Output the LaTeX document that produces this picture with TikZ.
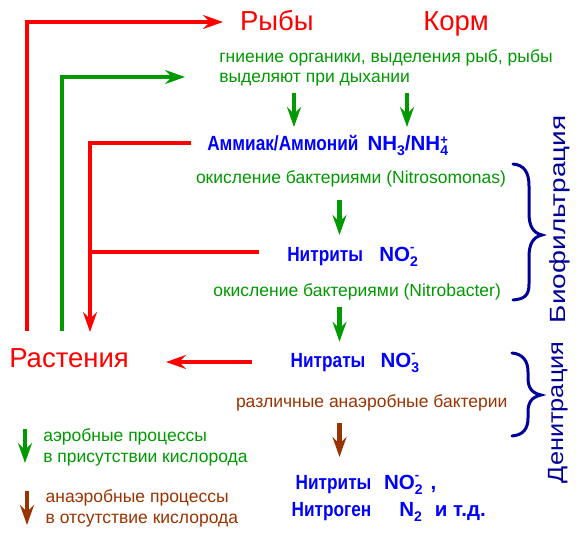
\documentclass[tikz,border=0pt]{standalone}
\usepackage{fontspec}
\setmainfont{Liberation Sans}
\newfontfamily\bluecyr[FakeStretch=0.84]{Liberation Sans}
\newfontfamily\bluelat{Liberation Sans}
\usetikzlibrary{arrows.meta}
\definecolor{cred}{HTML}{FF0000}
\definecolor{cgreen}{HTML}{009900}
\definecolor{cblue}{HTML}{0000FF}
\definecolor{cbrown}{HTML}{993300}
\definecolor{cnavy}{HTML}{000099}
\newcommand\lt[1]{{\bluelat\bfseries #1}}
\newcommand\sbn[1]{\raisebox{-5pt}{\bluelat\bfseries\fontsize{14}{14}\selectfont#1}}
\newcommand\supsub[3]{\rlap{\raisebox{#3}{\bluelat\bfseries\fontsize{13}{13}\selectfont#2}}\sbn{#1}}
\begin{document}
\begin{tikzpicture}[x=1pt,y=-1pt,
  every node/.style={inner sep=0pt,outer sep=0pt,anchor=base west},
  bigred/.style={text=cred,font=\fontsize{27.5}{30}\selectfont},
  greentxt/.style={text=cgreen,font=\fontsize{17.5}{20}\selectfont},
  browntxt/.style={text=cbrown,font=\fontsize{17.5}{20}\selectfont},
  bluetxt/.style={text=cblue,font=\bluecyr\bfseries\fontsize{20.5}{22}\selectfont},
  sidetxt/.style={text=cnavy,font=\fontsize{22}{24}\selectfont,rotate=90,anchor=base west},
  tip/.style={-{Stealth[length=20pt,width=14pt,inset=7pt]}},
  redline/.style={draw=cred,line width=4pt},
  greenline/.style={draw=cgreen,line width=4pt},
  brownline/.style={draw=cbrown,line width=4.5pt},
  downgreen/.style={greenline,line width=4.5pt,tip},
  bracestyle/.style={draw=cnavy,line width=3pt,line cap=round}
]
\useasboundingbox (0,0) rectangle (584,538);

% texts
\node[bigred] (fish) at (240,30.7) {Рыбы};
\node[bigred] (feed) at (423.3,30.7) {Корм};
\node[greentxt] (src1) at (219.3,62.3) {гниение органики, выделения рыб, рыбы};
\node[greentxt] (src2) at (219.3,82.7) {выделяют при дыхании};
\node[bluetxt] (amm) at (207.3,150) {Аммиак/Аммоний\hspace{9pt}\lt{NH}\sbn{3}\lt{/NH}\supsub{4}{+}{6pt}};
\node[greentxt] (ox1) at (196,183.3) {окисление бактериями (Nitrosomonas)};
\node[bluetxt] (nit) at (287.3,261.7) {Нитриты\hspace{16.4pt}\lt{NO}\supsub{2}{-}{10pt}};
\node[greentxt] (ox2) at (213.3,296.7) {окисление бактериями (Nitrobacter)};
\node[bluetxt] (nat) at (290.7,367.7) {Нитраты\hspace{15.3pt}\lt{NO}\supsub{3}{-}{10pt}};
\node[bigred] (plants) at (9.3,367.3) {Растения};
\node[browntxt] (anb) at (236,407.3) {различные анаэробные бактерии};
\node[bluetxt] (end1) at (295.7,489) {Нитриты\hspace{12.7pt}\lt{NO}\supsub{2}{-}{10pt}\hspace{8pt}\lt{,}};
\node[bluetxt] (end2) at (291.7,516.7) {Нитроген\hspace{28pt}\lt{N}\sbn{2}\hspace{13pt}\lt{и т.д.}};
\node[greentxt] (lg1) at (43.3,441.7) {аэробные процессы};
\node[greentxt] (lg2) at (43.3,462.7) {в присутствии кислорода};
\node[browntxt] (lb1) at (45.7,502.3) {анаэробные процессы};
\node[browntxt] (lb2) at (45.7,523.3) {в отсутствие кислорода};
\node[sidetxt] (bio) at (565,323) {\scalebox{1.27}[1]{Биофильтрация}};
\node[sidetxt] (den) at (563,483) {\scalebox{1.15}[1]{Денитрация}};

% coordinates
\coordinate (r1s) at (27,331);
\coordinate (r1e) at (223,22);
\coordinate (g2s) at (62,331);
\coordinate (g2e) at (185,77);
\coordinate (r3a) at (191,142.5);
\coordinate (r3e) at (90,332);
\coordinate (r3b) at (259,251.7);
\coordinate (r4s) at (252,362);
\coordinate (r4e) at (166,362);
\coordinate (d1s) at (294,92.7);  \coordinate (d1e) at (294,127);
\coordinate (d2s) at (407,93);    \coordinate (d2e) at (407,127);
\coordinate (d3s) at (339.5,200); \coordinate (d3e) at (339.5,235);
\coordinate (d4s) at (339.5,306.7); \coordinate (d4e) at (339.5,341.7);
\coordinate (d5s) at (339.5,423); \coordinate (d5e) at (339.5,457);
\coordinate (l1s) at (25,429);    \coordinate (l1e) at (25,463);
\coordinate (l2s) at (27,491);    \coordinate (l2e) at (27,525);

% connectors
\draw[redline,tip] (r1s) |- (r1e);
\draw[greenline,tip] (g2s) |- (g2e);
\draw[redline,tip] (r3a) -| (r3e);
\draw[redline] (r3b) -- (r3b -| r3e);
\draw[redline,tip] (r4s) -- (r4e);
\draw[downgreen] (d1s) -- (d1e);
\draw[downgreen] (d2s) -- (d2e);
\draw[downgreen] (d3s) -- (d3e);
\draw[downgreen] (d4s) -- (d4e);
\draw[brownline,tip] (d5s) -- (d5e);
\draw[downgreen] (l1s) -- (l1e);
\draw[brownline,tip] (l2s) -- (l2e);

% braces
\draw[bracestyle] (513,164) .. controls (524,165) and (529,172) .. (529,186) -- (529,213)
  .. controls (529,226) and (533,233) .. (542,235)
  .. controls (533,237) and (529,244) .. (529,257) -- (529,284)
  .. controls (529,296) and (524,299) .. (513,300);
\draw[bracestyle] (512,353) .. controls (523,354) and (528,361) .. (528,372) -- (528,378)
  .. controls (528,388) and (532,393) .. (541,395)
  .. controls (532,397) and (528,402) .. (528,412) -- (528,418)
  .. controls (528,429) and (523,435) .. (512,436);
\end{tikzpicture}
\end{document}
